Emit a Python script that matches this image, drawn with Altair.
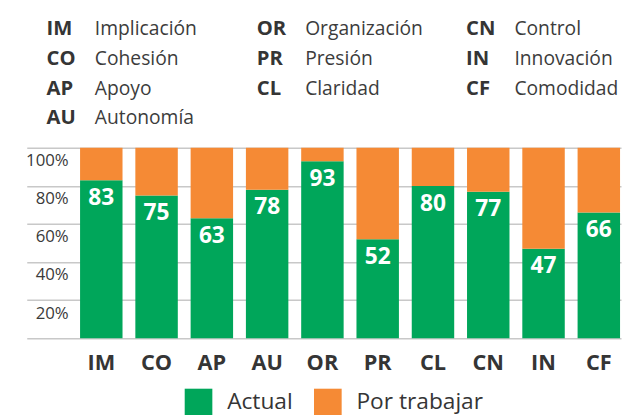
import altair as alt
import pandas as pd

codes = ["IM", "CO", "AP", "AU", "OR", "PR", "CL", "CN", "IN", "CF"]
names = ["Implicación", "Cohesión", "Apoyo", "Autonomía", "Organización",
         "Presión", "Claridad", "Control", "Innovación", "Comodidad"]
actual = [83, 75, 63, 78, 93, 52, 80, 77, 47, 66]
series = ["Actual", "Por trabajar"]
colors = ["#00a65a", "#f58a35"]
y_ticks = [0, 20, 40, 60, 80, 100]

rows = []
for c, v in zip(codes, actual):
    rows.append({"code": c, "serie": series[0], "valor": v, "orden": 0})
    rows.append({"code": c, "serie": series[1], "valor": 100 - v, "orden": 1})
df = pd.DataFrame(rows)
head = pd.DataFrame({"code": codes, "name": names})

FONT = "Open Sans"
DARK = "#353535"

xscale = alt.Scale(paddingInner=0.232, paddingOuter=0.491, align=0.982)
yscale = alt.Scale(domain=[0, 100], nice=False)

x_axis = alt.Axis(title=None, labelAngle=0, labelFont=FONT, labelFontWeight="bold",
                  labelFontSize=22, labelColor=DARK, ticks=False, tickSize=0,
                  domain=False, grid=False, labelPadding=25, labelBaseline="middle")
y_axis = alt.Axis(title=None, values=y_ticks, grid=True, gridColor="#c8c8c8",
                  gridWidth=1.5, ticks=False, tickSize=0, domain=False,
                  labelPadding=-42, labelOffset=13, labelAlign="right",
                  labelBaseline="middle", labelFontSize=17, labelFont=FONT,
                  labelColor="#3a3a3a", labelOverlap=False, labelBound=False,
                  labelFlush=False,
                  labelExpr="datum.value == 0 ? '' : datum.value + '%'")

bars = alt.Chart(df).mark_bar().encode(
    x=alt.X("code:N", sort=codes, scale=xscale, axis=x_axis),
    y=alt.Y("valor:Q", stack="zero", scale=yscale, axis=y_axis),
    color=alt.Color("serie:N", scale=alt.Scale(domain=series, range=colors),
                    legend=alt.Legend(orient="none", legendX=160, legendY=244,
                                      direction="horizontal", title=None,
                                      symbolType="square", symbolSize=784,
                                      symbolStrokeWidth=0, symbolOpacity=1,
                                      labelFontSize=23, labelFont=FONT, labelColor=DARK,
                                      labelOffset=15, columnPadding=21, padding=0)),
    order=alt.Order("orden:Q"),
)

labels = alt.Chart(df).transform_filter(
    alt.datum.serie == series[0]
).mark_text(dy=18, color="white", fontWeight="bold", fontSize=23, font=FONT,
            baseline="middle").encode(
    x=alt.X("code:N", sort=codes, scale=xscale, axis=x_axis),
    y=alt.Y("valor:Q", scale=yscale, axis=y_axis),
    text="valor:Q",
)

main = alt.layer(bars, labels)

hbase = alt.Chart(head).transform_window(
    idx="row_number()"
).transform_calculate(
    col="datum.idx <= 4 ? 0 : (datum.idx <= 7 ? 1 : 2)",
    row="datum.idx <= 4 ? datum.idx - 1 : (datum.idx <= 7 ? datum.idx - 5 : datum.idx - 8)",
)
hx = alt.X("col:Q", scale=alt.Scale(domain=[0, 1, 2], range=[20, 233, 445]), axis=None)
hy = alt.Y("row:Q", scale=alt.Scale(domain=[0, 3], range=[-120, -30]), axis=None)

abbr = hbase.mark_text(align="left", baseline="middle", font=FONT, fontWeight="bold",
                       fontSize=20.5, color=DARK).encode(x=hx, y=hy, text="code:N")
nm = hbase.mark_text(align="left", baseline="middle", font=FONT, fontSize=19.5,
                     color="#3c3c3c", dx=49).encode(x=hx, y=hy, text="name:N")

header = alt.layer(abbr, nm)

chart = alt.layer(main, header).resolve_scale(
    x="independent", y="independent"
).properties(
    width=602, height=193,
    autosize=alt.AutoSizeParams(type="none"),
    padding={"left": 19, "top": 139, "right": 2, "bottom": 75},
).configure_view(stroke=None)

chart.save("out.html", embed_options={"renderer": "svg", "actions": False})
